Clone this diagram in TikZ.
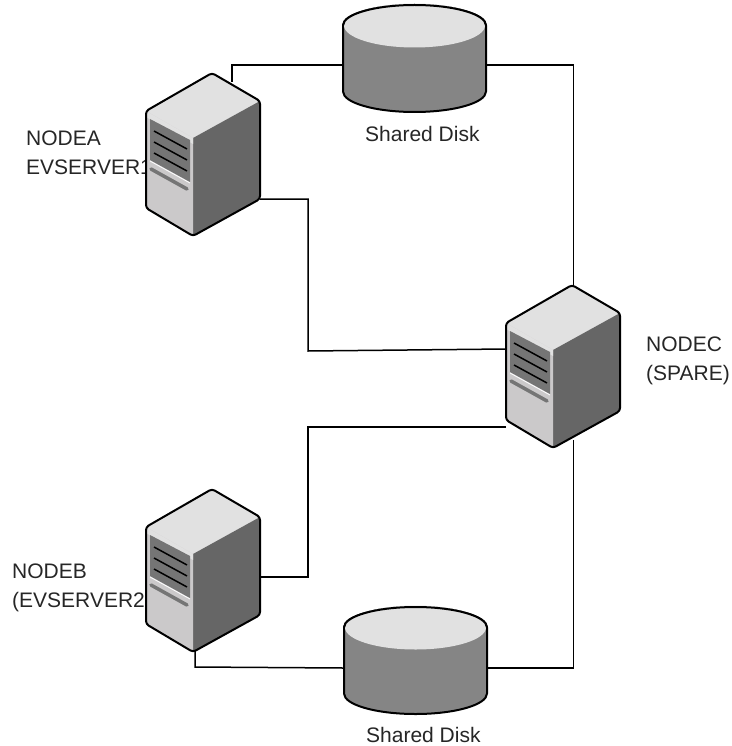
\documentclass[tikz,border=0pt]{standalone}
\usepackage{fontspec}
\setmainfont{Liberation Sans}
\usepackage{tikz}
\usetikzlibrary{positioning}
\definecolor{facelight}{HTML}{E1E1E1}
\definecolor{facefront}{HTML}{CBC9CA}
\definecolor{facedark}{HTML}{666666}
\definecolor{panelgray}{HTML}{757575}
\definecolor{diskgray}{HTML}{858585}
\tikzstyle{hostbox}=[minimum width=114pt, minimum height=163pt, inner sep=0pt, outer sep=0pt]
\tikzstyle{diskbox}=[minimum width=145pt, minimum height=107pt, inner sep=0pt, outer sep=0pt]
\tikzstyle{caption}=[inner sep=0pt, font=\fontsize{21}{28.5}\selectfont, text=black!85, align=left, anchor=west]
\tikzstyle{wire}=[line width=1.5pt, black]
\tikzset{
  server/.pic={
    \fill[facelight] (0,38) -- (66,0) -- (114,28) -- (47,65) -- cycle;
    \fill[facedark] (114,28) -- (114,126) -- (47,163) -- (47,65) -- cycle;
    \fill[facefront] (0,38) -- (47,65) -- (47,163) -- (0,135) -- cycle;
    \fill[facelight] (0,38) -- (47,65) -- (47,71) -- (0,44) -- cycle;
    \fill[panelgray] (4,46) -- (44,67) -- (44,109) -- (4,87) -- cycle;
    \draw[white, line width=0.8pt] (4,88) -- (44,110);
    \draw[black, line width=1.5pt] (8,58) -- (41,76);
    \draw[black, line width=1.5pt] (8,69) -- (41,87);
    \draw[black, line width=1.5pt] (8,80) -- (41,98);
    \draw[panelgray, line width=3.5pt, line cap=round] (5,96) -- (41,116);
    \draw[black, line width=2pt, rounded corners=3pt, line join=round]
      (0,38) -- (66,0) -- (114,28) -- (114,126) -- (47,163) -- (0,135) -- cycle;
  },
  shareddisk/.pic={
    \draw[line width=2pt, fill=diskgray]
      (-71.5,-33) -- (-71.5,33) arc[start angle=180, end angle=360, x radius=71.5pt, y radius=20.5pt]
      -- (71.5,-33) arc[start angle=0, end angle=180, x radius=71.5pt, y radius=20.5pt] -- cycle;
    \fill[facelight] (0,-33) ellipse[x radius=70.5pt, y radius=22pt];
    \draw[line width=2pt] (-71.5,-33) arc[start angle=180, end angle=0, x radius=71.5pt, y radius=20.5pt];
  }
}
\begin{document}
\begin{tikzpicture}[x=1pt, y=-1pt, node distance=416pt]
	\useasboundingbox (0,0) rectangle (731,746);
	\node[hostbox] (nodea) at (203,154.5) {};
	\node[hostbox] (nodeb) [below of = nodea] {};
	\node[hostbox] (nodec) [right = 246pt of nodea, yshift=-212pt] {};
	\node[diskbox] (diska) at (414.5,58.5) {};
	\node[diskbox] (diskb) at (415.5,660.5) {};
	\node[caption] (labela) at (26,153) {NODEA\\EVSERVER1};
	\node[caption] (labelb) at (12,588) {NODEB\\(EVSERVER2};
	\node[caption] (labelc) at (646,361) {NODEC\\(SPARE)};
	\node[caption] (capa) at (365,134) {Shared Disk};
	\node[caption] (capb) at (366,735) {Shared Disk};
	\coordinate (busa) at (308,351);
	\coordinate (busb) at (308,427);
	\coordinate (kink) at (195,667);

	\draw[wire] ([xshift=29pt,yshift=-9pt]nodea.north) |- ([yshift=-6.5pt]diska.west);
	\draw[wire] ([yshift=-6.5pt]diska.east) -| ([xshift=10.5pt,yshift=-10pt]nodec.north);
	\draw[wire] ([yshift=-44.5pt]nodea.east) -| (busa) -- ([yshift=17.5pt]nodec.west);
	\draw[wire] ([yshift=-60.5pt]nodec.west) -- (busb) |- ([yshift=-6.5pt]nodeb.east);
	\draw[wire] ([xshift=-8pt,yshift=2pt]nodeb.south) -- (kink) -- ([yshift=-7.5pt]diskb.west);
	\draw[wire] ([yshift=-7.5pt]diskb.east) -| ([xshift=10.5pt,yshift=8pt]nodec.south);

	\pic at (nodea.north west) {server};
	\pic at (nodeb.north west) {server};
	\pic at (nodec.north west) {server};
	\pic at (diska.center) {shareddisk};
	\pic at (diskb.center) {shareddisk};
\end{tikzpicture}
\end{document}
